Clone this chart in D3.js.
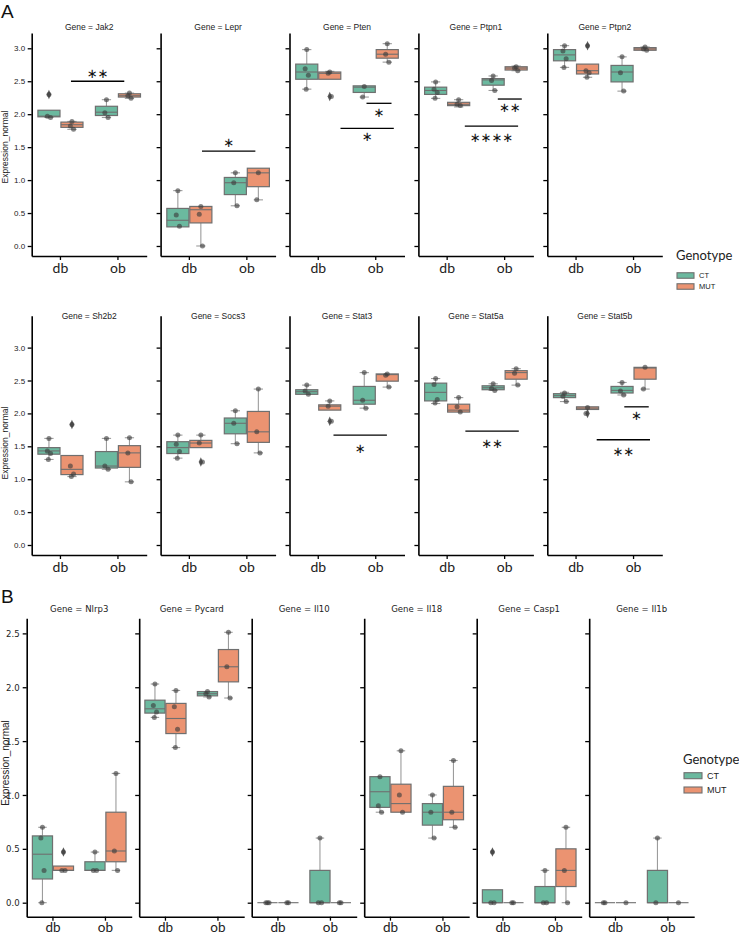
<!DOCTYPE html>
<html><head><meta charset="utf-8">
<script src="https://cdn.jsdelivr.net/npm/d3@7"></script>
<style>body{margin:0;background:#fff}</style>
</head><body>
<script>
// ---------- data ----------
const strains = ["db", "ob"];
const genotypes = ["CT", "MUT"];
const genesA1 = ["Jak2", "Lepr", "Pten", "Ptpn1", "Ptpn2"];
const genesA2 = ["Sh2b2", "Socs3", "Stat3", "Stat5a", "Stat5b"];
const genesB = ["Nlrp3", "Pycard", "Il10", "Il18", "Casp1", "Il1b"];
const yTicksA = [0, 0.5, 1, 1.5, 2, 2.5, 3];
const yTicksB = [0, 0.5, 1, 1.5, 2, 2.5];
const yLabel = "Expression_normal";
const legendTitle = "Genotype";

// groups: db-CT, db-MUT, ob-CT, ob-MUT ; box = [low whisker, q1, median, q3, high whisker]
const box_Jak2 = [[1.95,1.96,1.97,2.06,2.06],[1.77,1.80,1.84,1.88,1.89],[1.95,1.98,2.03,2.12,2.22],[2.24,2.26,2.28,2.31,2.32]];
const pts_Jak2 = [[2.30,1.97,1.95],[1.89,1.82,1.77],[2.22,2.02,1.95],[2.32,2.28,2.24]];
const out_Jak2 = [[2.30],[],[],[]];

const box_Lepr = [[0.29,0.29,0.39,0.57,0.84],[0.0,0.35,0.55,0.60,0.60],[0.61,0.78,0.96,1.04,1.11],[0.70,0.90,1.11,1.18,1.18]];
const pts_Lepr = [[0.84,0.47,0.30],[0.60,0.48,0.0],[1.11,0.96,0.61],[1.11,0.70]];
const out_Lepr = [[],[],[],[]];

const box_Pten = [[2.38,2.53,2.64,2.76,2.98],[2.53,2.53,2.62,2.64,2.65],[2.26,2.33,2.41,2.43,2.43],[2.79,2.85,2.91,2.98,3.07]];
const pts_Pten = [[2.98,2.69,2.59,2.38],[2.64,2.62,2.27],[2.42,2.26],[3.07,2.91,2.79]];
const out_Pten = [[],[2.27],[],[]];

const box_Ptpn1 = [[2.24,2.30,2.36,2.41,2.49],[2.11,2.13,2.15,2.18,2.22],[2.36,2.44,2.52,2.54,2.58],[2.66,2.67,2.70,2.72,2.73]];
const pts_Ptpn1 = [[2.49,2.38,2.33,2.24],[2.22,2.15,2.13],[2.58,2.51,2.36],[2.72,2.70,2.66]];
const out_Ptpn1 = [[],[],[],[]];

const box_Ptpn2 = [[2.71,2.81,2.90,2.98,3.04],[2.56,2.61,2.66,2.76,2.76],[2.35,2.49,2.64,2.74,2.87],[2.97,2.97,2.99,3.01,3.02]];
const pts_Ptpn2 = [[3.04,2.96,2.84,2.71],[3.04,2.66,2.63,2.56],[2.87,2.63,2.35],[3.02,2.99,2.97]];
const out_Ptpn2 = [[],[3.04],[],[]];

const box_Sh2b2 = [[1.30,1.38,1.43,1.48,1.62],[1.04,1.07,1.15,1.36,1.36],[1.15,1.17,1.20,1.42,1.62],[0.96,1.18,1.40,1.51,1.63]];
const pts_Sh2b2 = [[1.62,1.43,1.39,1.30],[1.83,1.20,1.08,1.04],[1.62,1.20,1.15],[1.63,1.40,0.96]];
const out_Sh2b2 = [[],[1.83],[],[]];

const box_Socs3 = [[1.32,1.39,1.48,1.57,1.67],[1.48,1.48,1.55,1.59,1.67],[1.54,1.69,1.85,1.93,2.04],[1.40,1.56,1.72,2.03,2.37]];
const pts_Socs3 = [[1.67,1.53,1.42,1.32],[1.67,1.55,1.26],[2.04,1.85,1.54],[2.37,1.72,1.40]];
const out_Socs3 = [[],[1.26],[],[]];

const box_Stat3 = [[2.29,2.29,2.33,2.36,2.43],[2.05,2.05,2.11,2.13,2.19],[2.08,2.14,2.20,2.41,2.62],[2.40,2.49,2.59,2.60,2.60]];
const pts_Stat3 = [[2.43,2.34,2.29],[2.19,2.11,1.88],[2.62,2.20,2.08],[2.60,2.58,2.40]];
const out_Stat3 = [[],[1.88],[],[]];

const box_Stat5a = [[2.15,2.19,2.32,2.46,2.53],[2.02,2.02,2.05,2.14,2.24],[2.35,2.36,2.39,2.42,2.45],[2.43,2.52,2.62,2.65,2.68]];
const pts_Stat5a = [[2.53,2.44,2.21,2.16],[2.24,2.10,2.02],[2.45,2.38,2.35],[2.68,2.61,2.43]];
const out_Stat5a = [[],[],[],[]];

const box_Stat5b = [[2.18,2.24,2.27,2.30,2.32],[2.06,2.06,2.08,2.10,2.10],[2.28,2.31,2.35,2.41,2.47],[2.37,2.52,2.69,2.70,2.70]];
const pts_Stat5b = [[2.31,2.26,2.18],[2.09,2.00],[2.47,2.34,2.28],[2.70,2.37]];
const out_Stat5b = [[],[2.00],[],[]];

const box_Nlrp3 = [[0,0.22,0.45,0.62,0.70],[0.30,0.30,0.30,0.34,0.34],[0.30,0.30,0.30,0.38,0.47],[0.30,0.38,0.48,0.84,1.20]];
const pts_Nlrp3 = [[0.70,0.60,0.30,0],[0.47,0.30,0.30],[0.47,0.30,0.30],[1.20,0.48,0.30]];
const out_Nlrp3 = [[],[0.47],[],[]];

const box_Pycard = [[1.72,1.76,1.80,1.88,2.03],[1.44,1.57,1.71,1.85,1.97],[1.91,1.92,1.94,1.96,1.96],[1.90,2.05,2.19,2.35,2.51]];
const pts_Pycard = [[2.03,1.83,1.77,1.72],[1.97,1.82,1.61,1.44],[1.96,1.94,1.91],[2.51,2.19,1.90]];
const out_Pycard = [[],[],[],[]];

const box_Il10 = [[0,0,0,0,0],[0,0,0,0,0],[0,0,0,0.30,0.60],[0,0,0,0,0]];
const pts_Il10 = [[0,0,0],[0,0],[0.60,0,0],[0,0]];
const out_Il10 = [[],[],[],[]];

const box_Il18 = [[0.84,0.885,1.03,1.17,1.17],[0.84,0.84,0.92,1.10,1.41],[0.60,0.72,0.84,0.92,1.00],[0.70,0.77,0.84,1.08,1.32]];
const pts_Il18 = [[1.17,0.90,0.84],[1.41,1.00,0.84],[1.00,0.84,0.60],[1.32,0.84,0.70]];
const out_Il18 = [[],[],[],[]];

const box_Casp1 = [[0,0,0,0.12,0.12],[0,0,0,0,0],[0,0,0,0.15,0.30],[0,0.15,0.30,0.50,0.70]];
const pts_Casp1 = [[0.47,0,0],[0,0],[0.30,0,0],[0.70,0.30,0]];
const out_Casp1 = [[0.47],[],[],[]];

const box_Il1b = [[0,0,0,0,0],[0,0,0,0,0],[0,0,0,0.30,0.60],[0,0,0,0,0]];
const pts_Il1b = [[0,0],[0],[0.60,0],[0]];
const out_Il1b = [[],[],[],[]];

// significance: [gene, x start, x end (category units 0..2), line value, label value, label]
const sigLines = [
  ["Jak2", 0.683, 1.610, 2.50, 2.61, "**"],
  ["Lepr", 0.720, 1.648, 1.44, 1.56, "*"],
  ["Pten", 1.339, 1.774, 2.165, 2.02, "*"],
  ["Pten", 0.887, 1.814, 1.785, 1.66, "*"],
  ["Ptpn1", 1.381, 1.798, 2.23, 2.10, "**"],
  ["Ptpn1", 0.807, 1.734, 1.82, 1.645, "****"],
  ["Stat3", 0.765, 1.694, 1.67, 1.46, "*"],
  ["Stat5a", 0.817, 1.746, 1.73, 1.53, "**"],
  ["Stat5b", 1.339, 1.764, 2.10, 1.97, "*"],
  ["Stat5b", 0.859, 1.786, 1.60, 1.415, "**"]
];

const palette = ["#6bb99f", "#eb9371"];

const boxes = {Jak2:box_Jak2,Lepr:box_Lepr,Pten:box_Pten,Ptpn1:box_Ptpn1,Ptpn2:box_Ptpn2,
  Sh2b2:box_Sh2b2,Socs3:box_Socs3,Stat3:box_Stat3,Stat5a:box_Stat5a,Stat5b:box_Stat5b,
  Nlrp3:box_Nlrp3,Pycard:box_Pycard,Il10:box_Il10,Il18:box_Il18,Casp1:box_Casp1,Il1b:box_Il1b};
const points = {Jak2:pts_Jak2,Lepr:pts_Lepr,Pten:pts_Pten,Ptpn1:pts_Ptpn1,Ptpn2:pts_Ptpn2,
  Sh2b2:pts_Sh2b2,Socs3:pts_Socs3,Stat3:pts_Stat3,Stat5a:pts_Stat5a,Stat5b:pts_Stat5b,
  Nlrp3:pts_Nlrp3,Pycard:pts_Pycard,Il10:pts_Il10,Il18:pts_Il18,Casp1:pts_Casp1,Il1b:pts_Il1b};
const outliers = {Jak2:out_Jak2,Lepr:out_Lepr,Pten:out_Pten,Ptpn1:out_Ptpn1,Ptpn2:out_Ptpn2,
  Sh2b2:out_Sh2b2,Socs3:out_Socs3,Stat3:out_Stat3,Stat5a:out_Stat5a,Stat5b:out_Stat5b,
  Nlrp3:out_Nlrp3,Pycard:out_Pycard,Il10:out_Il10,Il18:out_Il18,Casp1:out_Casp1,Il1b:out_Il1b};

// ---------- drawing ----------
const W = 739, H = 936;
const svg = d3.select("body").append("svg").attr("width", W).attr("height", H)
  .style("font-family", "'Liberation Sans', Arial, sans-serif");

const EDGE = "#6f6f6f", WHISK = "#9c9c9c";
const jit = [0, -1.6, 1.6, -0.6, 0.8];

function drawPanel(gene, left, width, y, yTicks, o) {
  const g = svg.append("g");
  const x0 = d3.scaleBand().domain(strains).range([left, left + width]);
  const x1 = d3.scaleBand().domain(genotypes).range([0, x0.bandwidth()]).paddingOuter(0.25).paddingInner(0);
  const xl = d3.scaleLinear().domain([0, 2]).range([left, left + width]);
  const color = d3.scaleOrdinal().domain(genotypes).range(palette);
  const yb = y.range()[0];

  // axes
  const ya = g.append("g").attr("transform", `translate(${left},0)`)
    .call(d3.axisLeft(y).tickValues(yTicks).tickSize(4).tickSizeOuter(0).tickPadding(o.yPad)
      .tickFormat(o.showY ? d3.format(".1f") : () => ""));
  ya.select(".domain").attr("stroke", "#000").attr("stroke-width", 1.6);
  ya.selectAll(".tick line").attr("stroke", "#000").attr("stroke-width", 1.3);
  ya.selectAll(".tick text").attr("font-size", o.yFont).attr("fill", "#222").style("font-family", o.yFamily);

  const xa = g.append("g").attr("transform", `translate(0,${yb})`)
    .call(d3.axisBottom(x0).tickSize(4).tickSizeOuter(0).tickPadding(o.xPad));
  xa.select(".domain").attr("stroke", "#000").attr("stroke-width", 1.6);
  xa.selectAll(".tick line").attr("stroke", "#000").attr("stroke-width", 1.3);
  xa.selectAll(".tick text").attr("font-size", o.xFont).attr("fill", "#222").style("font-family", "Lato, 'Open Sans', sans-serif");

  // title
  g.append("text").attr("x", left + width / 2).attr("y", o.titleY).attr("text-anchor", "middle")
    .attr("font-size", o.titleFont).attr("fill", "#222").style("font-family", o.titleFamily)
    .text("Gene = " + gene);

  const bx = boxes[gene], pt = points[gene], ol = outliers[gene];
  let k = 0;
  strains.forEach(s => genotypes.forEach(gt => {
    const st = bx[k], ps = pt[k], os = ol[k];
    const bw = x1.bandwidth() * 0.96;
    const cx = x0(s) + x1(gt) + x1.bandwidth() / 2;
    const capW = bw * 0.42;
    // whiskers
    if (st[0] < st[1]) {
      g.append("line").attr("x1", cx).attr("x2", cx).attr("y1", y(st[1])).attr("y2", y(st[0])).attr("stroke", WHISK).attr("stroke-width", 1.1);
      g.append("line").attr("x1", cx - capW / 2).attr("x2", cx + capW / 2).attr("y1", y(st[0])).attr("y2", y(st[0])).attr("stroke", WHISK).attr("stroke-width", 1.1);
    }
    if (st[4] > st[3]) {
      g.append("line").attr("x1", cx).attr("x2", cx).attr("y1", y(st[3])).attr("y2", y(st[4])).attr("stroke", WHISK).attr("stroke-width", 1.1);
      g.append("line").attr("x1", cx - capW / 2).attr("x2", cx + capW / 2).attr("y1", y(st[4])).attr("y2", y(st[4])).attr("stroke", WHISK).attr("stroke-width", 1.1);
    }
    // box
    g.append("rect").attr("x", cx - bw / 2).attr("width", bw)
      .attr("y", y(st[3])).attr("height", Math.max(0, y(st[1]) - y(st[3])))
      .attr("fill", color(gt)).attr("stroke", EDGE).attr("stroke-width", 1.2);
    g.append("line").attr("x1", cx - bw / 2).attr("x2", cx + bw / 2).attr("y1", y(st[2])).attr("y2", y(st[2]))
      .attr("stroke", EDGE).attr("stroke-width", 1.1);
    // fliers
    os.forEach(v => {
      g.append("path").attr("d", d3.symbol(d3.symbolDiamond, 26)())
        .attr("transform", `translate(${cx},${y(v)}) scale(0.8,1)`).attr("fill", "#4a4a4a").attr("opacity", 0.9);
    });
    // points
    ps.forEach((v, i) => {
      g.append("circle").attr("cx", cx + jit[i % jit.length]).attr("cy", y(v)).attr("r", 2.5)
        .attr("fill", "#3c3c3c").attr("opacity", 0.62);
    });
    k++;
  }));

  // significance
  sigLines.filter(d => d[0] === gene).forEach(d => {
    g.append("line").attr("x1", xl(d[1])).attr("x2", xl(d[2])).attr("y1", y(d[3])).attr("y2", y(d[3]))
      .attr("stroke", "#000").attr("stroke-width", 1.3);
    const fs = 13;
    g.append("text").attr("x", (xl(d[1]) + xl(d[2])) / 2).attr("y", y(d[4]) + 0.32 * fs)
      .attr("text-anchor", "middle").attr("font-size", fs)
      .style("font-family", "'DejaVu Sans', sans-serif").attr("fill", "#111")
      .text("\u2217".repeat(d[5].length));
  });
}

function drawLegend(x, yTitle, ySw, swW, swH, itemFont, gap) {
  const g = svg.append("g");
  g.append("text").attr("x", x).attr("y", yTitle).attr("font-size", 13).attr("fill", "#222")
    .style("font-family", "Lato, 'Open Sans', sans-serif").text(legendTitle);
  genotypes.forEach((gt, i) => {
    const yy = ySw + i * gap;
    g.append("rect").attr("x", x + 1).attr("y", yy - swH / 2).attr("width", swW).attr("height", swH)
      .attr("fill", palette[i]).attr("stroke", EDGE).attr("stroke-width", 1.1);
    g.append("text").attr("x", x + swW + 6).attr("y", yy + itemFont * 0.35).attr("font-size", itemFont)
      .attr("fill", "#222").text(gt);
  });
}

function yLab(cx, cy, fs) {
  svg.append("text").attr("transform", `translate(${cx},${cy}) rotate(-90)`).attr("text-anchor", "middle")
    .attr("dy", "0.35em").attr("font-size", fs).attr("fill", "#222").text(yLabel);
}

// ---------- Panel A ----------
const stepA = 128.9, leftA = 31.7, widthA = 115;
const yA1 = d3.scaleLinear().domain([-0.152, 3.232]).range([256, 33]);
const yA2 = d3.scaleLinear().domain([-0.152, 3.485]).range([555, 315.7]);
const optA = {yPad: 2.5, yFont: 8, yFamily: "'Liberation Sans', Arial, sans-serif", xPad: 3, xFont: 14,
  titleFont: 8.5, titleFamily: "'Liberation Sans', Arial, sans-serif"};
genesA1.forEach((gn, i) => drawPanel(gn, leftA + i * stepA, widthA, yA1, yTicksA, Object.assign({}, optA, {showY: i === 0, titleY: 29.5})));
genesA2.forEach((gn, i) => drawPanel(gn, leftA + i * stepA, widthA, yA2, yTicksA, Object.assign({}, optA, {showY: i === 0, titleY: 319})));

// ---------- Panel B ----------
const stepB = 112.5, leftB = 26.7, widthB = 105;
const yB = d3.scaleLinear().domain([-0.13, 2.64]).range([916.7, 618.3]);
const optB = {yPad: 3, yFont: 9.5, yFamily: "'Liberation Sans Narrow','DejaVu Sans Condensed',sans-serif", xPad: 2, xFont: 13.5,
  titleFont: 9.5, titleFamily: "'Liberation Sans Narrow','DejaVu Sans Condensed',sans-serif"};
genesB.forEach((gn, i) => drawPanel(gn, leftB + i * stepB, widthB, yB, yTicksB, Object.assign({}, optB, {showY: i === 0, titleY: 611.5})));

// labels
yLab(5.5, 147, 8.5);
yLab(5.5, 443, 8.5);
yLab(5.5, 763, 10);
drawLegend(676, 259.5, 275.5, 17, 5.5, 7.5, 11);
drawLegend(683, 763.5, 775.7, 18, 6, 9, 14.3);

svg.append("text").attr("x", 1).attr("y", 18).attr("font-size", 19).attr("fill", "#111").text("A");
svg.append("text").attr("x", 1).attr("y", 603).attr("font-size", 19).attr("fill", "#111").text("B");
</script>
</body></html>
